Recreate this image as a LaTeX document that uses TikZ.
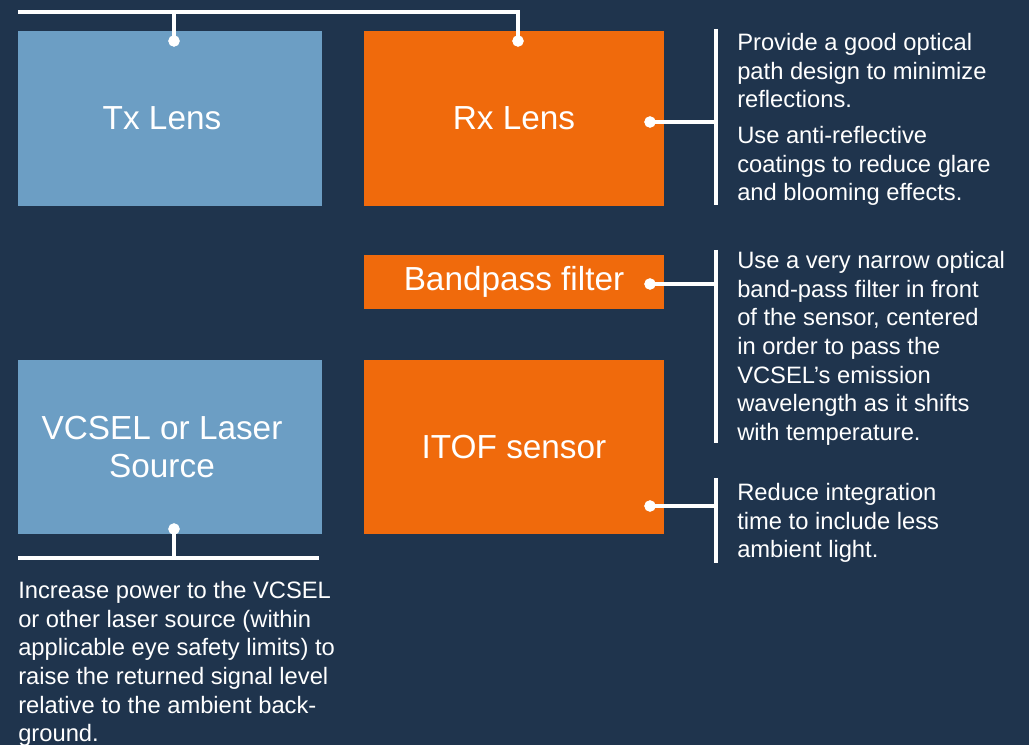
\documentclass[tikz,border=0pt]{standalone}
\usepackage{fontspec}
\setmainfont{Liberation Sans}
\usepackage{xcolor}
\usetikzlibrary{calc}

\definecolor{bgnavy}{RGB}{31,52,77}
\definecolor{lensblue}{RGB}{108,158,196}
\definecolor{lensorange}{RGB}{240,106,12}

\tikzset{
	boxtext/.style={text=white, align=center, inner sep=0pt,
		font=\fontsize{25}{28.5}\selectfont},
	box/.style={rectangle, inner sep=0pt, boxtext},
	bluebox/.style={box, fill=lensblue, label={[boxtext, xshift=-6pt]center:#1}},
	orangebox/.style={box, fill=lensorange},
	dot/.style={circle, fill=white, inner sep=0pt, minimum size=8.5pt},
	wire/.style={draw=white, line width=2.6pt},
	note/.style={anchor=north west, inner sep=0pt, text=white, align=left,
		font=\fontsize{17.8}{21.5}\selectfont}
}

\begin{document}
\begin{tikzpicture}[x=0.75pt,y=-0.75pt]
\fill[bgnavy] (0,0) rectangle (1029,745);
\useasboundingbox (0,0) rectangle (1029,745);

% blocks
\node[bluebox={Tx Lens}, minimum width=304*0.75pt, minimum height=175*0.75pt] (tx) at (170,118.5) {};
\node[orangebox, minimum width=300*0.75pt, minimum height=175*0.75pt] (rx) at (514,118.5) {Rx Lens};
\node[orangebox, minimum width=300*0.75pt, minimum height=54*0.75pt] (bp) at (514,282) {\raisebox{-2pt}{Bandpass filter}};
\node[bluebox={VCSEL or Laser\\Source}, minimum width=304*0.75pt, minimum height=174*0.75pt] (vcsel) at (170,447) {};
\node[orangebox, minimum width=300*0.75pt, minimum height=174*0.75pt] (itof) at (514,447) {ITOF sensor};

% dots
\node[dot] (txdot) at (174,41) {};
\node[dot] (rxtopdot) at (518,41) {};
\node[dot] (rxdot) at (650,122) {};
\node[dot] (bpdot) at (650,284) {};
\node[dot] (itofdot) at (650,506) {};
\node[dot] (vcseldot) at (174,529) {};

% brackets
\coordinate (topl) at (18,12);
\coordinate (topr) at (518,12);
\coordinate (rxtop) at (716,29);
\coordinate (rxbot) at (716,205);
\coordinate (bptop) at (716,250);
\coordinate (bpbot) at (716,443);
\coordinate (itoftop) at (716,478);
\coordinate (itofbot) at (716,563);
\coordinate (vcsell) at (18,558);
\coordinate (vcselr) at (319,558);

\draw[wire] (topl) -- (topr) -- (rxtopdot.center);
\draw[wire] (txdot.center) -- (txdot |- topl);
\draw[wire] (rxtop) -- (rxbot);
\draw[wire] (rxdot.center) -- (rxdot -| rxtop);
\draw[wire] (bptop) -- (bpbot);
\draw[wire] (bpdot.center) -- (bpdot -| bptop);
\draw[wire] (itoftop) -- (itofbot);
\draw[wire] (itofdot.center) -- (itofdot -| itoftop);
\draw[wire] (vcsell) -- (vcselr);
\draw[wire] (vcseldot.center) -- (vcseldot |- vcsell);
\node[dot] at (txdot) {};
\node[dot] at (rxtopdot) {};
\node[dot] at (rxdot) {};
\node[dot] at (bpdot) {};
\node[dot] at (itofdot) {};
\node[dot] at (vcseldot) {};

% notes
\node[note] (rxnote) at (737,33) {Provide a good optical\\path design to minimize\\reflections.};
\node[note] (rxnote2) at (737,126) {Use anti-reflective\\coatings to reduce glare\\and blooming effects.};
\node[note] (bpnote) at (737,251) {Use a very narrow optical\\band-pass filter in front\\of the sensor, centered\\in order to pass the\\VCSEL’s emission\\wavelength as it shifts\\with temperature.};
\node[note] (itofnote) at (737,483) {Reduce integration\\time to include less\\ambient light.};
\node[note] (vcselnote) at (18,581) {Increase power to the VCSEL\\or other laser source (within\\applicable eye safety limits) to\\raise the returned signal level\\relative to the ambient back-\\ground.};
\end{tikzpicture}
\end{document}
